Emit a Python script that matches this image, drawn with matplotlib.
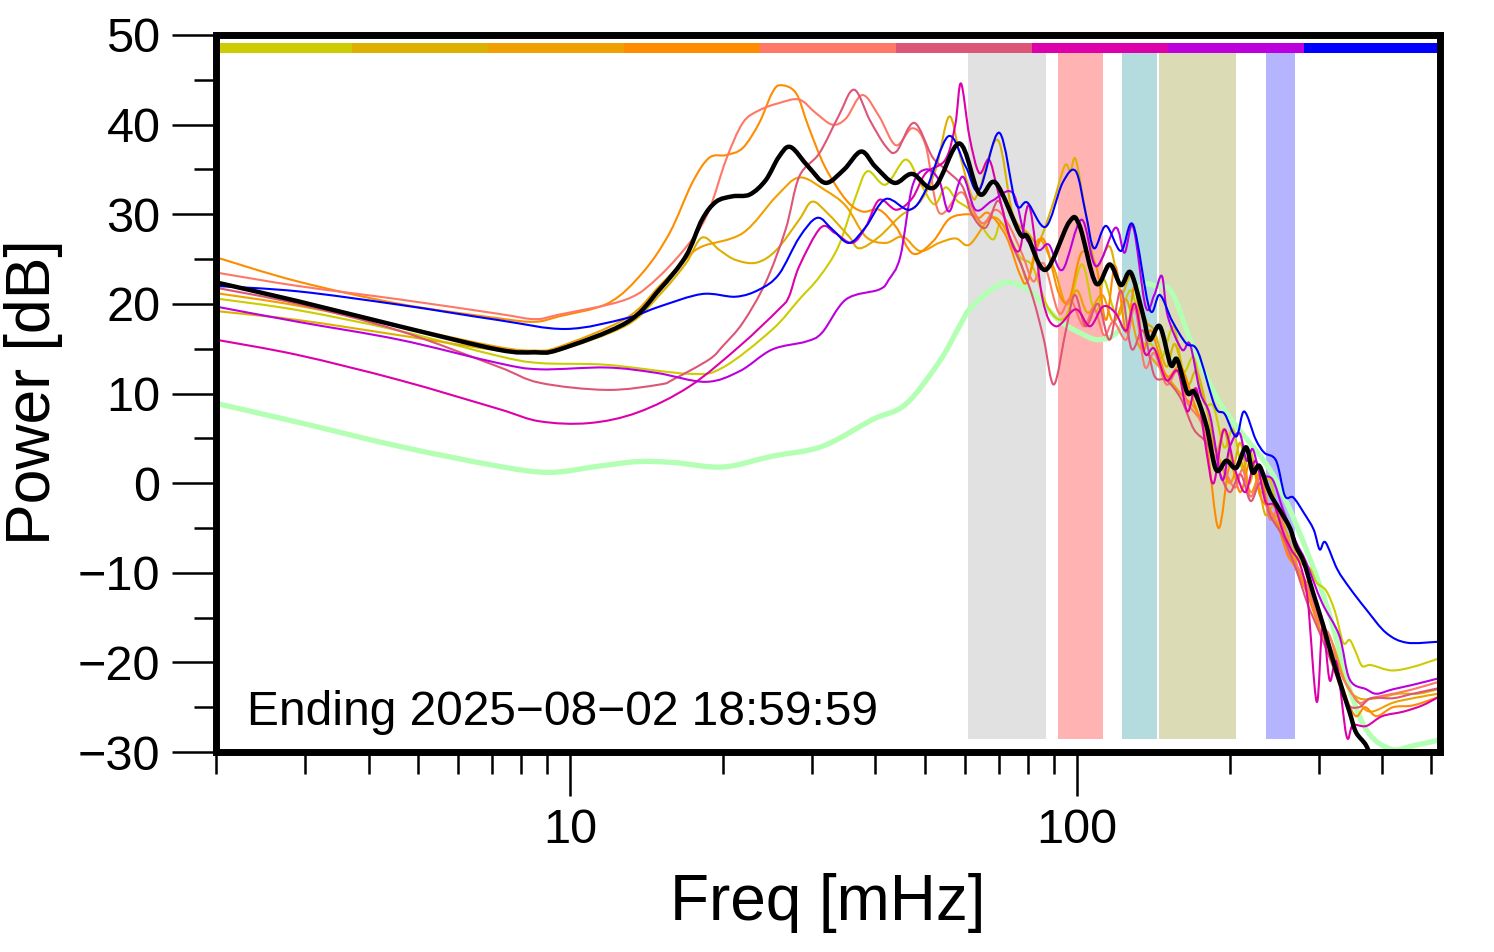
import matplotlib
matplotlib.use('Agg')
import numpy as np
import matplotlib.pyplot as plt
from matplotlib.path import Path
from matplotlib.patches import PathPatch
from matplotlib.ticker import NullFormatter

plt.rcParams['font.family'] = ['Liberation Sans', 'DejaVu Sans']

# ---------------- data (frequency in mHz, power in dB) ----------------
mean_f = [2, 2.9, 4.6, 7.2, 8.5, 9.5, 12.9, 15, 16.9, 18.2, 19.4, 20.9, 22.6, 24.3, 25.8, 27.2, 29.5,
          31.9, 34.7, 37.5, 40.0, 43.6, 47.3, 52.3, 58.6, 64.1, 69.1, 77.0, 79.8, 86.7, 96.4, 101,
          108.9, 116, 122, 127.6, 134.6, 139, 145.6, 153, 157.5, 165, 170.6, 180, 188, 197, 206,
          215.5, 222, 229, 240, 251, 263, 270, 280, 292, 306, 318, 330, 345, 355, 372, 385]
mean_db = [22.4, 20.3, 17.5, 14.9, 14.6, 14.9, 17.9, 21.6, 25.3, 29.4, 31.4, 32.0, 32.2, 33.8, 36.4, 37.5, 35.3,
           33.5, 35.0, 37.0, 35.3, 33.5, 34.5, 33.0, 37.9, 32.3, 33.5, 27.9, 27.5, 23.8, 29.1, 28.8,
           22.3, 24.4, 22.1, 23.5, 19.0, 16.0, 17.5, 13.2, 13.8, 10.1, 10.1, 6.4, 1.5, 2.5, 1.7,
           4.0, 1.2, 1.9, -1.1, -3.0, -5.0, -7.0, -8.8, -12.2, -15.9, -19.3, -22.2, -25.6, -27.8, -29.3, -31.5]

ref_f = [2, 2.9, 4.6, 7.2, 9.1, 11.4, 13.6, 16, 20, 25, 31.4, 39.5, 45.9, 53.4, 58.6, 62, 71.2, 79, 84,
         92, 101, 110.5, 121, 132.8, 143.5, 154, 169, 188, 206, 240, 270, 311, 345, 375, 417, 460, 515]
ref_db = [8.9, 6.8, 4.1, 1.9, 1.2, 1.9, 2.4, 2.3, 1.8, 3.0, 4.1, 7.1, 8.8, 13.5, 17.5, 19.7, 22.3, 21.8, 20.5,
          18.2, 16.8, 16.0, 17.1, 21.8, 22.0, 21.2, 15.3, 9.7, 6.4, 1.5, -4.5, -13.7, -23.0, -27.8, -29.7, -29.3, -28.7]

s1_f = [2, 2.9, 4.6, 7.2, 8.7, 11.8, 17.2, 20, 25, 28.3, 31, 33.8, 36.6, 38.6, 41.9, 45.9, 49, 52.3, 55, 58,
        62, 68, 71, 77, 81.6, 88, 95, 102, 107, 110, 113, 120, 128, 134, 140, 147, 155, 162, 170, 178, 186,
        195, 203, 212, 220, 230, 240, 250, 262, 276, 288, 297, 310, 323, 335, 345, 355, 365, 380, 417, 460, 515]
s1_db = [20.6, 19.3, 17.0, 14.2, 13.4, 13.2, 12.2, 12.9, 17.1, 20.5, 23.0, 26.4, 32.0, 34.8, 33.3, 36.1, 33.5, 31.1, 33.0, 31.5,
         30.3, 27.2, 29.0, 25.3, 24.2, 19.4, 18.6, 24.4, 20.0, 19.4, 22.7, 18.6, 21.5, 16.0, 15.5, 14.0, 17.5, 12.5, 14.0, 9.0, 8.5,
         4.0, 6.0, 1.5, 3.5, -1.0, 0.5, -4.0, -5.0, -8.8, -9.5, -11.1, -12.0, -14.4, -17.8, -17.5, -18.9, -20.4, -20.3, -20.9, -20.5, -19.6]

s2_f = [2, 2.9, 4.6, 7.2, 8.5, 9.5, 12.9, 15, 16.9, 18.2, 19.7, 21.2, 23.3, 25.5, 28.3, 30, 32.2, 35.5, 37.2,
        40.7, 44.8, 49, 52.6, 55.9, 58.6, 62, 64.1, 69.7, 74.6, 80, 84, 89.3, 94.5, 97, 99.4, 104, 109, 116,
        122, 128, 136.5, 142, 150, 156, 165, 172, 180, 188, 195, 203, 210, 218, 225, 235, 245, 255, 265, 275,
        290, 305, 320, 340, 360, 390, 430, 470, 515]
s2_db = [19.2, 18.2, 16.5, 14.8, 14.5, 14.8, 17.6, 21.0, 24.5, 27.4, 26.0, 24.9, 24.6, 26.0, 29.4, 31.4, 30.1, 27.5, 26.2,
         27.5, 29.8, 31.4, 35.0, 40.9, 36.8, 32.0, 32.7, 38.3, 30.1, 27.9, 27.0, 30.9, 35.4, 34.8, 36.1, 30.1, 24.2, 26.4,
         21.2, 23.0, 18.2, 17.0, 13.0, 15.5, 11.0, 12.5, 8.5, 3.5, 6.0, 2.0, 4.5, 0.0, 1.5, -3.5, -2.5, -6.5, -6.0, -10.5,
         -11.5, -16.0, -18.0, -22.5, -24.0, -24.0, -23.5, -23.5, -23.0]

s3_f = [2, 2.9, 4.6, 7.2, 8.5, 9.5, 12.9, 15, 16.9, 18.2, 21.9, 25.5, 28.3, 31.8, 35, 38.3, 41.9, 45.3, 49,
        53.4, 57.6, 61.3, 67, 71, 77, 80, 84, 90, 95, 100, 105, 112, 118, 125, 132, 140, 150, 160, 170, 180,
        190, 200, 210, 220, 230, 240, 255, 270, 285, 300, 320, 340, 360, 380, 420, 460, 515]
s3_db = [21.2, 19.8, 17.5, 15.2, 14.8, 15.2, 18.4, 22.0, 25.0, 26.4, 27.9, 32.0, 34.1, 32.7, 30.9, 27.5, 26.8, 27.5, 25.9,
         26.8, 27.3, 26.6, 29.4, 29.0, 24.9, 22.7, 27.2, 24.0, 20.0, 21.5, 19.0, 21.0, 18.0, 20.5, 15.5, 14.0, 12.0, 10.0, 8.5, 6.0,
         3.0, 0.0, 2.5, -1.0, 1.0, -3.0, -4.5, -9.0, -12.0, -15.0, -19.0, -22.5, -24.5, -25.5, -24.5, -24.0, -23.5]

s4_f = [2, 2.9, 4.6, 7.2, 8.5, 9.5, 11.9, 13.9, 15.7, 17.4, 18.8, 20.3, 21.9, 23.6, 25, 26, 27.9, 29.5, 31.8,
        35, 37.7, 40.7, 43.9, 47.5, 52, 56, 61, 64, 67, 72.5, 77, 79.8, 85.5, 92, 96.5, 102, 109, 114, 119, 125,
        130, 135, 140, 150, 160, 170, 180, 190, 200, 210, 220, 230, 240, 250, 260, 270, 285, 300, 320, 340, 355,
        370, 390, 420, 460, 515]
s4_db = [25.2, 22.5, 20.0, 18.4, 18.0, 18.6, 20.1, 23.5, 27.9, 33.5, 36.3, 36.6, 37.4, 40.2, 43.5, 44.4, 43.5, 39.8, 35.3,
         31.6, 30.3, 30.5, 28.6, 25.6, 27.0, 29.5, 30.0, 29.6, 30.1, 27.5, 23.4, 22.5, 27.3, 21.2, 20.5, 25.7, 24.2, 18.2, 24.2, 16.8,
         22.0, 15.0, 17.0, 12.0, 13.0, 9.0, 4.5, -5.0, 2.0, -1.0, 2.5, -1.5, -3.0, -5.0, -8.0, -9.5, -12.5, -16.0, -19.5, -24.0, -26.0,
         -25.0, -26.0, -25.0, -24.8, -23.9]

s5_f = [2, 2.9, 4.6, 7.2, 8.5, 9.5, 12.9, 15, 17.4, 18.8, 20.3, 21.9, 23.6, 25.8, 28.3, 30.5, 32.9, 35, 37.7,
        40.7, 43.9, 47.3, 50.3, 53.4, 58.6, 61, 65, 69, 73, 78, 82, 86, 92, 97, 103, 108, 113, 118, 125, 130,
        136, 142, 150, 158, 165, 175, 185, 195, 205, 212, 220, 230, 240, 250, 260, 270, 285, 300, 315, 330, 345,
        360, 380, 420, 460, 515]
s5_db = [23.5, 22.0, 20.5, 18.9, 18.3, 18.8, 20.5, 23.1, 27.2, 30.5, 36.1, 40.2, 41.6, 42.4, 42.8, 41.3, 40.0, 40.7, 43.3,
         40.9, 37.7, 39.6, 37.6, 30.2, 32.4, 31.5, 29.0, 30.5, 29.0, 25.5, 22.5, 24.5, 19.0, 20.5, 17.5, 19.5, 16.5, 18.0, 16.0, 19.5,
         13.0, 14.5, 11.0, 12.5, 9.0, 7.0, 3.5, 1.5, -0.5, 1.5, -1.5, 0.5, -4.0, -3.0, -7.5, -9.0, -11.5, -15.5, -17.0, -21.0, -23.0,
         -24.5, -24.0, -23.5, -23.0, -22.2]

s6_f = [2, 2.9, 4.6, 7.2, 8.7, 11.8, 15, 16, 18.8, 20, 21.9, 24.3, 26.6, 28.3, 31, 33.8, 36.3, 39, 41.9, 44,
        47.7, 51.8, 55, 59.4, 62, 66, 70, 74, 78, 82, 86, 90, 95, 99, 104, 110, 116, 122, 128, 135, 142, 150,
        160, 170, 180, 190, 200, 210, 220, 230, 240, 255, 270, 285, 300, 320, 340, 360, 380, 420, 460, 515]
s6_db = [21.8, 20.0, 17.0, 13.0, 11.2, 10.4, 11.0, 11.6, 13.8, 15.3, 17.9, 22.4, 28.3, 34.2, 36.8, 40.9, 43.9, 40.5, 37.6, 37.0,
         40.2, 36.4, 35.0, 33.1, 30.0, 28.5, 31.5, 27.0, 24.0, 20.5, 16.0, 11.0, 17.0, 21.0, 17.5, 20.0, 16.0, 21.5, 15.0, 17.0, 12.0, 11.5,
         9.5, 6.0, 4.5, 1.5, -1.0, 1.0, -2.0, 0.0, -3.5, -6.0, -9.5, -13.5, -16.5, -20.5, -24.5, -25.0, -24.0, -24.0, -23.5, -22.9]

s7_f = [2, 2.9, 4.6, 7.2, 8.7, 10.9, 13.6, 17.2, 21.6, 25.8, 27, 28.3, 31.2, 33.3, 36, 38.3, 40.7, 44, 47.3,
        50.3, 55, 57.5, 59, 61.3, 64.1, 67, 69.7, 73.6, 77, 80.5, 85.5, 90.8, 99.4, 106, 112.5, 119, 125, 130,
        136, 142, 150, 158, 165, 172, 180, 186, 195, 205, 215, 225, 235, 245, 255, 265, 275, 285, 297, 305,
        315, 325, 340, 350, 372, 400, 440, 480, 515]
s7_db = [16.0, 14.3, 11.5, 8.3, 6.9, 6.7, 7.9, 10.8, 15.3, 19.4, 20.8, 24.2, 28.5, 27.9, 26.8, 28.6, 31.6, 30.5, 31.8,
         34.6, 36.1, 40.0, 44.6, 38.7, 34.6, 36.1, 32.7, 27.5, 26.0, 30.9, 20.5, 17.5, 19.4, 17.5, 19.7, 19.0, 17.0, 20.0,
         14.5, 15.0, 11.5, 12.5, 8.0, 10.5, 3.5, 0.0, 6.0, 1.5, -1.0, 2.5, -2.0, -2.5, -5.5, -7.5, -9.0, -13.0, -24.4, -16.0,
         -22.0, -20.0, -28.2, -27.0, -27.1, -26.0, -25.5, -24.8, -23.9]

s8_f = [2, 2.9, 4.6, 7.2, 8.7, 11.8, 14.8, 18.5, 21.6, 25, 29.2, 31.4, 35, 40.7, 42.5, 44.8, 47.3, 50.3, 53.4,
        55.9, 59.4, 63, 68, 74.6, 79, 84, 88, 93.6, 102, 109, 119, 124, 129, 136.5, 142, 147, 151, 161, 167,
        175, 183, 193, 200, 209, 216, 222, 230, 243, 255, 270, 283, 304, 329, 345, 372, 390, 420, 460, 515]
s8_db = [19.7, 18.0, 16.0, 13.4, 12.7, 12.9, 12.3, 11.3, 12.5, 14.9, 15.8, 16.8, 20.5, 21.6, 22.7, 25.3, 33.1, 35.0, 33.8,
         30.3, 34.2, 30.5, 31.5, 32.4, 27.5, 26.0, 26.6, 23.8, 29.4, 24.2, 28.5, 25.7, 28.6, 19.7, 21.0, 23.1, 18.6, 14.9, 15.5,
         10.1, 7.5, 0.4, 4.0, 5.6, 2.5, 3.8, 1.0, 0.4, -3.0, -6.5, -8.8, -13.3, -17.0, -21.9, -23.0, -23.5, -23.0, -22.5, -21.8]

s9_f = [2, 2.9, 4.6, 7.2, 9.8, 12.9, 15, 18.2, 21.2, 23.6, 25.8, 28.3, 30.7, 32.9, 35.5, 38.3, 41.9, 46.7, 50.3,
        55.7, 60.3, 64.1, 70.2, 75.7, 79.8, 86.7, 93.6, 99.4, 104, 108, 114, 122, 129, 139, 145.6, 154, 164,
        173, 187, 195.6, 206, 213.6, 225, 234, 247, 257, 267, 280, 293, 301, 309, 326, 345, 372, 407, 447, 515]
s9_db = [22.0, 21.4, 19.9, 18.2, 17.2, 18.4, 19.7, 21.1, 20.8, 21.6, 23.3, 27.4, 29.6, 28.3, 26.8, 28.6, 31.7, 30.5, 32.7,
         38.7, 35.3, 32.7, 39.1, 31.2, 31.3, 28.6, 33.5, 34.8, 30.1, 26.2, 28.7, 25.9, 28.8, 19.4, 21.0, 18.1, 15.6,
         14.7, 8.6, 7.7, 5.2, 8.0, 4.9, 3.4, 2.5, -1.4, -1.6, -3.3, -5.2, -7.4, -6.6, -9.6, -11.7, -14.1, -16.7, -17.8, -17.7]

series_f = [s1_f, s2_f, s3_f, s4_f, s5_f, s6_f, s7_f, s8_f, s9_f]
series_db = [s1_db, s2_db, s3_db, s4_db, s5_db, s6_db, s7_db, s8_db, s9_db]
series_colors = ['#cccc00', '#ddb000', '#f0a000', '#ff8c00', '#ff7766',
                 '#dd5577', '#dd00aa', '#bb00dd', '#0000ff']

band_lo = [61, 91.7, 122.7, 145.2, 236]
band_hi = [86.9, 112.5, 143.9, 206, 269]
band_colors = ['#e1e1e1', '#ffb3b3', '#b4dcde', '#dbdbb5', '#b4b4ff']

y_major = [-30, -20, -10, 0, 10, 20, 30, 40, 50]
y_minor = [-25, -15, -5, 5, 15, 25, 35, 45]
x_major = [10, 100]
x_major_labels = ['10', '100']
x_minor = [2, 3, 4, 5, 6, 7, 8, 9, 20, 30, 40, 50, 60, 70, 80, 90, 200, 300, 400, 500]

stamp = 'Ending 2025\u221208\u221202 18:59:59'


def smooth_curve(ax, f, d, **kw):
    """Draw the read points joined by a smooth (Catmull-Rom style) Bezier path
    in log-frequency space; the path passes through every read point."""
    u = np.log10(np.asarray(f, float))
    v = np.asarray(d, float)
    P = np.column_stack([u, v])
    n = len(P)
    verts = [P[0]]
    codes = [Path.MOVETO]
    for i in range(n - 1):
        p0 = P[i - 1] if i > 0 else P[i]
        p1 = P[i]
        p2 = P[i + 1]
        p3 = P[i + 2] if i + 2 < n else P[i + 1]
        c1 = p1 + (p2 - p0) / 6.0
        c2 = p2 - (p3 - p1) / 6.0
        verts += [c1, c2, p2]
        codes += [Path.CURVE4] * 3
    verts = np.array(verts)
    verts[:, 0] = 10 ** verts[:, 0]
    patch = PathPatch(Path(verts, codes), fill=False, transform=ax.transData,
                      capstyle='round', joinstyle='round', **kw)
    ax.add_patch(patch)


# ---------------- figure ----------------
W, H = 1494, 952
fig = plt.figure(figsize=(W / 100, H / 100), dpi=100)
L, R, T, B = 216, 1440, 35, 752
ax = fig.add_axes([L / W, 1 - B / H, (R - L) / W, (B - T) / H])
ax.set_xscale('log')
ax.set_xlim(2, 520)
ax.set_ylim(-30, 50)

for lo, hi, c in zip(band_lo, band_hi, band_colors):
    ax.fill_between([lo, hi], -28.55, 48.0, color=c, lw=0, zorder=0)

nb = len(series_colors)
for i, c in enumerate(series_colors):
    ax.axhspan(48.0, 49.1, xmin=i / nb, xmax=(i + 1) / nb, color=c, lw=0, zorder=3)

smooth_curve(ax, ref_f, ref_db, edgecolor='#b3ffb3', lw=3.8, zorder=1)
for f, d, c in zip(series_f, series_db, series_colors):
    smooth_curve(ax, f, d, edgecolor=c, lw=1.5, zorder=2)
smooth_curve(ax, mean_f, mean_db, edgecolor='black', lw=3.2, zorder=2.5)

ax.text((247 - L) / (R - L), (B - 725) / (B - T), stamp, transform=ax.transAxes,
        fontsize=34.5, va='baseline', ha='left', zorder=4)

ax.set_yticks(y_major)
ax.set_yticks(y_minor, minor=True)
ax.set_xticks(x_major, labels=x_major_labels)
ax.set_xticks(x_minor, minor=True)
ax.xaxis.set_minor_formatter(NullFormatter())
ax.yaxis.set_minor_formatter(NullFormatter())
ax.tick_params(which='major', direction='out', length=32, width=1.8, labelsize=35, pad=8)
ax.tick_params(which='minor', direction='out', length=16, width=1.8)
for s in ax.spines.values():
    s.set_linewidth(5)
    s.set_zorder(5)

fig.text(828 / W, 1 - 920 / H, 'Freq [mHz]', fontsize=46, ha='center', va='baseline')
fig.text(0.003, 1 - 392 / H, 'Power [dB]', fontsize=45, rotation=90, ha='left', va='center')

fig.savefig('out.png', dpi=100)
